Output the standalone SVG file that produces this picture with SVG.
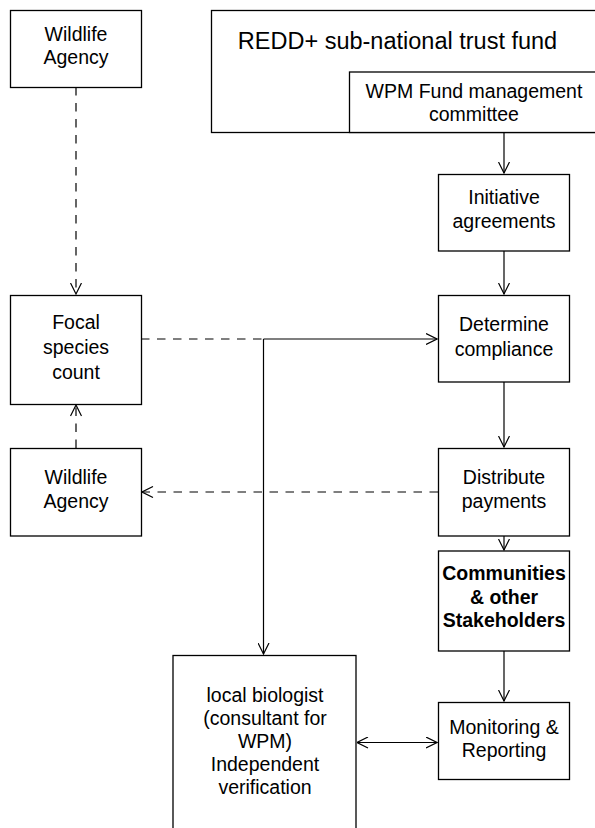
<svg xmlns="http://www.w3.org/2000/svg" width="595" height="828" viewBox="0 0 595 828">
<style>
.box{fill:#fff;stroke:#000;stroke-width:1.3}
.t{font-family:"Liberation Sans",Arial,sans-serif;font-size:19.5px;fill:#000;text-anchor:middle}
.b{font-weight:bold}
.ln{fill:none;stroke:#000;stroke-width:1.2}
.d{stroke-dasharray:8.5 7.5}
</style>
<defs>
<marker id="ah" viewBox="0 0 12 12" refX="11.5" refY="6" markerWidth="12" markerHeight="12" markerUnits="userSpaceOnUse" orient="auto-start-reverse">
<path d="M0.5,0.5 L11.5,6 L0.5,11.5" fill="none" stroke="#000" stroke-width="1.2"/>
</marker>
</defs>
<rect width="595" height="828" fill="#fff"/>
<g id="connectors">
<line class="ln d" x1="76" y1="87" x2="76" y2="294" marker-end="url(#ah)"/>
<line class="ln d" x1="76" y1="448" x2="76" y2="405" marker-end="url(#ah)"/>
<line class="ln d" x1="141" y1="339" x2="263.5" y2="339"/>
<line class="ln" x1="263.5" y1="339" x2="437" y2="339" marker-end="url(#ah)"/>
<line class="ln" x1="263.5" y1="339" x2="263.5" y2="654" marker-end="url(#ah)"/>
<line class="ln d" x1="438" y1="492" x2="142" y2="492" marker-end="url(#ah)"/>
<line class="ln" x1="504" y1="132.5" x2="504" y2="173" marker-end="url(#ah)"/>
<line class="ln" x1="504" y1="251" x2="504" y2="294" marker-end="url(#ah)"/>
<line class="ln" x1="504" y1="382" x2="504" y2="447" marker-end="url(#ah)"/>
<line class="ln" x1="504" y1="536" x2="504" y2="550" marker-end="url(#ah)"/>
<line class="ln" x1="504" y1="651" x2="504" y2="701" marker-end="url(#ah)"/>
<line class="ln" x1="357" y1="742.5" x2="437" y2="742.5" marker-start="url(#ah)" marker-end="url(#ah)"/>
</g>
<g id="wildlife-agency-top">
<rect class="box" x="10.5" y="10.5" width="131" height="77"/>
<text class="t" x="76" y="41">Wildlife</text>
<text class="t" x="76" y="64">Agency</text>
</g>
<g id="redd-fund">
<rect class="box" x="211.5" y="10.5" width="390" height="122"/>
<text class="t" x="397.5" y="49" style="font-size:23.5px">REDD+ sub-national trust fund</text>
</g>
<g id="wpm-committee">
<rect class="box" x="349.5" y="72" width="252" height="60.5"/>
<text class="t" x="474" y="98">WPM Fund management</text>
<text class="t" x="474" y="120.5">committee</text>
</g>
<g id="initiative-agreements">
<rect class="box" x="438.5" y="174.5" width="131" height="76.5"/>
<text class="t" x="504" y="204">Initiative</text>
<text class="t" x="504" y="228">agreements</text>
</g>
<g id="focal-species-count">
<rect class="box" x="10.5" y="295.5" width="131" height="109"/>
<text class="t" x="76" y="329">Focal</text>
<text class="t" x="76" y="354">species</text>
<text class="t" x="76" y="379">count</text>
</g>
<g id="determine-compliance">
<rect class="box" x="438.5" y="295.5" width="131" height="86.5"/>
<text class="t" x="504" y="331">Determine</text>
<text class="t" x="504" y="356">compliance</text>
</g>
<g id="wildlife-agency-bottom">
<rect class="box" x="10.5" y="448.5" width="131" height="87.5"/>
<text class="t" x="76" y="484">Wildlife</text>
<text class="t" x="76" y="508">Agency</text>
</g>
<g id="distribute-payments">
<rect class="box" x="438.5" y="448.5" width="131" height="87.5"/>
<text class="t" x="504" y="484">Distribute</text>
<text class="t" x="504" y="508">payments</text>
</g>
<g id="communities">
<rect class="box" x="438.5" y="551" width="131" height="100"/>
<text class="t b" x="504" y="580">Communities</text>
<text class="t b" x="504" y="603.5">&amp; other</text>
<text class="t b" x="504" y="627">Stakeholders</text>
</g>
<g id="local-biologist">
<rect class="box" x="173" y="655.5" width="183" height="190"/>
<text class="t" x="265" y="702">local biologist</text>
<text class="t" x="265" y="725">(consultant for</text>
<text class="t" x="265" y="748">WPM)</text>
<text class="t" x="265" y="771">Independent</text>
<text class="t" x="265" y="794">verification</text>
</g>
<g id="monitoring-reporting">
<rect class="box" x="438.5" y="702.5" width="131" height="77"/>
<text class="t" x="504" y="734">Monitoring &amp;</text>
<text class="t" x="504" y="757">Reporting</text>
</g>
</svg>
